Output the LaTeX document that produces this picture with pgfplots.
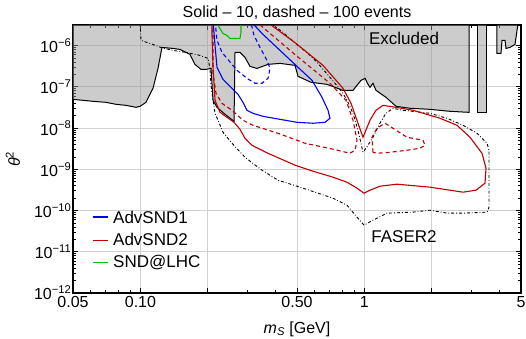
\documentclass[border=0pt]{standalone}
\usepackage{fontspec}
\setmainfont{Liberation Sans}
\usepackage{pgfplots}
\pgfplotsset{compat=1.18}
\definecolor{cblue}{rgb}{0,0,1}
\definecolor{cred}{rgb}{0.75,0,0}
\definecolor{cgreen}{rgb}{0,0.75,0}
\begin{document}
\begin{tikzpicture}
\useasboundingbox (-73pt,-45pt) rectangle (453pt,293pt);
\begin{loglogaxis}[
  scale only axis, width=448pt, height=268pt,
  xmin=0.05, xmax=5, ymin=1e-12, ymax=3.162e-6,
  xtick={0.05,0.1,0.2,0.5,1,2,5},
  xticklabels={0.05,0.10,,0.50,1,,5},
  minor xtick={0.06,0.07,0.08,0.09,0.3,0.4,0.6,0.7,0.8,0.9,3,4},
  ytick={1e-12,1e-11,1e-10,1e-9,1e-8,1e-7,1e-6},
  yticklabels={10\textsuperscript{−12},10\textsuperscript{−11},10\textsuperscript{−10},10\textsuperscript{−9},10\textsuperscript{−8},10\textsuperscript{−7},10\textsuperscript{−6}},
  grid=major, major grid style={black!18, line width=0.8pt},
  tick align=inside, xtick pos=both, ytick pos=both,
  xticklabel pos=lower, yticklabel pos=left,
  major tick length=5pt, minor tick length=3pt,
  tick style={black, line width=0.8pt},
  /pgf/number format/assume math mode=true,
  ticklabel style={font=\fontsize{16}{18}\selectfont},
  yticklabel style={inner sep=1.5pt},
  axis line style={line width=1.2pt},
  title={Solid – 10, dashed – 100 events},
  title style={font=\fontsize{16}{18}\selectfont, at={(axis description cs:0.5,1.024)}, anchor=center},
  xlabel={\textit{m}\textsubscript{\textit{S}} [GeV]},
  xlabel style={font=\fontsize{16}{18}\selectfont, at={(axis description cs:0.5,-0.134)}, anchor=center},
  ylabel={\textit{θ}\textsuperscript{2}},
  ylabel style={font=\fontsize{16}{18}\selectfont, at={(axis description cs:-0.134,0.5)}, anchor=center, rotate=0},
]
% Excluded region
\addplot[fill=black!40, fill opacity=0.5, draw=black, line width=1pt] coordinates {
(0.049,3.3e-6) (0.049,4.98e-8) (0.05,4.98e-8) (0.0614,4.46e-8) (0.0702,4.21e-8) (0.0778,3.77e-8)
(0.0862,3.56e-8) (0.0955,3.19e-8) (0.0996,3.37e-8) (0.1059,4.21e-8) (0.1138,9.20e-8) (0.1198,2.80e-7)
(0.1248,9.05e-7) (0.1397,8.55e-7) (0.1502,8.09e-7) (0.1665,6.12e-7) (0.1752,3.51e-7) (0.1864,2.65e-7)
(0.1963,2.65e-7) (0.2066,2.80e-7) (0.2109,4.71e-8) (0.2197,3.19e-8) (0.2385,2.16e-8) (0.2617,1.46e-8)
(0.2644,6.85e-7) (0.2782,6.85e-7) (0.2930,5.18e-7) (0.3084,3.14e-7) (0.3314,2.80e-7) (0.3711,3.51e-7)
(0.4200,3.71e-7) (0.4899,3.32e-7) (0.5052,1.80e-7) (0.5774,1.29e-7) (0.6806,1.15e-7) (0.8025,8.23e-8)
(0.8892,8.23e-8) (0.9654,1.44e-7) (1.006,1.61e-7) (1.038,1.15e-7) (1.059,9.72e-8) (1.092,1.22e-7)
(1.126,8.23e-8) (1.248,5.57e-8) (1.384,3.37e-8) (1.598,3.02e-8) (1.962,2.85e-8) (2.410,2.55e-8)
(2.930,2.41e-8) (2.930,3.3e-6) (0.049,3.3e-6)};
\addplot[fill=black!40, fill opacity=0.5, draw=black, line width=1pt] coordinates {
(3.182,3.3e-6) (3.182,2.41e-8) (3.490,2.41e-8) (3.490,3.3e-6) (3.182,3.3e-6)};
\addplot[fill=black!40, fill opacity=0.5, draw=black, line width=1pt] coordinates {
(3.907,3.3e-6) (3.907,6.48e-7) (4.070,6.48e-7) (4.113,1.34e-6) (4.243,1.34e-6) (4.285,8.55e-7)
(4.465,9.05e-7) (4.701,1.07e-6) (4.799,2.33e-6) (4.849,3.3e-6) (3.907,3.3e-6)};
% FASER2
\addplot[black, line width=0.9pt, dash pattern=on 3pt off 2pt on 0.8pt off 2pt] coordinates {
(0.0996,4e-6) (0.1006,1.34e-6) (0.1104,1.13e-6) (0.1235,9.05e-7) (0.1397,7.65e-7) (0.1598,6.85e-7)
(0.1845,5.79e-7) (0.2003,4.90e-7) (0.2044,2.80e-7) (0.2066,1.09e-7) (0.2109,4.71e-8) (0.2153,2.28e-8)
(0.2220,1.55e-8) (0.2337,7.91e-9) (0.2564,4.29e-9) (0.2930,1.96e-9) (0.3489,9.51e-10) (0.4114,5.44e-10)
(0.5157,3.69e-10) (0.7240,2.00e-10) (0.8359,1.35e-10) (0.9266,6.92e-11) (0.9956,4.43e-11) (1.092,5.85e-11)
(1.261,8.65e-11) (1.648,9.15e-11) (1.962,1.02e-10) (2.337,8.65e-11) (2.755,8.65e-11) (3.526,9.15e-11)
(3.599,1.21e-10) (3.599,2.90e-9) (3.526,4.29e-9) (3.182,7.48e-9) (2.755,1.17e-8) (2.337,1.73e-8)
(1.962,2.28e-8) (1.487,2.70e-8) (1.341,3.02e-8) (1.248,2.28e-8) (1.173,1.31e-8) (1.092,5.99e-9)
(1.016,3.24e-9) (0.9854,2.59e-9) (0.9361,8.85e-9) (0.8892,2.28e-8) (0.8447,4.21e-8) (0.8025,6.96e-8)
(0.7390,1.22e-7) (0.6206,3.71e-7) (0.5600,6.48e-7) (0.5052,1.01e-6) (0.4330,2.09e-6) (0.3789,3.6e-6)};
% AdvSND2 solid
\addplot[cred, line width=1.1pt] coordinates {
(0.2087,4e-6) (0.2087,1.77e-6) (0.2109,2.97e-7) (0.2153,4.71e-8) (0.2266,2.41e-8) (0.2617,1.38e-8)
(0.2782,9.35e-9) (0.2930,5.66e-9) (0.3148,3.83e-9) (0.3711,2.45e-9) (0.4899,1.26e-9) (0.5895,9.00e-10)
(0.7240,6.44e-10) (0.8359,4.87e-10) (0.9266,3.49e-10) (0.9956,2.64e-10) (1.059,3.12e-10) (1.173,3.90e-10)
(1.398,4.36e-10) (1.962,3.69e-10) (2.755,2.79e-10) (3.148,3.12e-10) (3.454,4.61e-10) (3.490,1.06e-9)
(3.349,2.45e-9) (2.960,5.99e-9) (2.590,1.17e-8) (2.175,1.73e-8) (1.648,2.70e-8) (1.384,3.19e-8)
(1.210,3.56e-8) (1.126,2.70e-8) (1.059,1.55e-8) (0.9854,5.99e-9) (0.9361,1.31e-8) (0.8712,3.99e-8)
(0.8025,9.20e-8) (0.6533,3.32e-7) (0.4949,1.13e-6) (0.3711,3.6e-6)};
% AdvSND2 dashed
\addplot[cred, line width=1.1pt, dash pattern=on 4pt off 3pt] coordinates {
(0.2109,4e-6) (0.2109,2.12e-7) (0.2175,6.96e-8) (0.2313,3.99e-8) (0.2564,2.70e-8) (0.2870,1.55e-8)
(0.3181,1.17e-8) (0.4114,7.48e-9) (0.5428,4.29e-9) (0.7240,3.07e-9) (0.8622,2.45e-9) (0.9077,2.90e-9)
(0.9266,5.07e-9) (0.8892,1.55e-8) (0.8275,4.71e-8) (0.7020,1.22e-7) (0.4949,5.79e-7) (0.3525,2.76e-6)
(0.3348,3.6e-6)};
\addplot[cred, line width=1.1pt, dash pattern=on 4pt off 3pt] coordinates {
(1.092,2.59e-9) (1.081,5.99e-9) (1.138,9.89e-9) (1.235,1.31e-8) (1.341,9.89e-9) (1.549,5.99e-9)
(1.826,5.07e-9) (1.864,3.83e-9) (1.771,3.24e-9) (1.549,2.90e-9) (1.300,2.59e-9) (1.138,2.45e-9) (1.092,2.59e-9)};
% AdvSND1 solid
\addplot[cblue, line width=1.1pt] coordinates {
(0.2109,4e-6) (0.2153,1.01e-6) (0.2197,2.97e-7) (0.2337,1.52e-7) (0.2512,1.03e-7) (0.2727,6.58e-8)
(0.2870,4.21e-8) (0.2991,2.70e-8) (0.3181,2.28e-8) (0.3525,1.93e-8) (0.4200,1.63e-8) (0.5,1.38e-8)
(0.5895,1.31e-8) (0.6668,1.38e-8) (0.7020,1.73e-8) (0.6878,2.70e-8) (0.6466,5.57e-8) (0.5836,1.44e-7)
(0.5,3.14e-7) (0.4200,7.65e-7) (0.3525,1.87e-6) (0.3148,3.6e-6)};
% AdvSND1 dashed
\addplot[cblue, line width=1.1pt, dash pattern=on 4pt off 3pt] coordinates {
(0.2153,4e-6) (0.2197,1.34e-6) (0.2313,6.85e-7) (0.2435,4.90e-7) (0.2699,2.51e-7) (0.2991,1.61e-7)
(0.3247,1.22e-7) (0.3489,1.22e-7) (0.3711,1.61e-7) (0.3789,2.80e-7) (0.3674,4.38e-7) (0.3418,9.05e-7)
(0.3213,1.77e-6) (0.3116,3.6e-6)};
% SND@LHC
\addplot[cgreen, line width=1.1pt] coordinates {
(0.2220,4e-6) (0.2220,3.1e-6) (0.2337,1.97e-6) (0.2435,1.77e-6) (0.2512,1.49e-6) (0.2782,1.49e-6)
(0.2812,2.09e-6) (0.2812,4e-6)};
\node[font=\fontsize{17}{19}\selectfont] at (axis cs:1.502,1.49e-6) {Excluded};
\node[font=\fontsize{17}{19}\selectfont] at (axis cs:1.502,2.27e-11) {FASER2};
% legend
\draw[cblue, line width=1.2pt] (axis description cs:0.0446,0.2836) -- ++(15pt,0pt);
\draw[cred, line width=1.2pt] (axis description cs:0.0446,0.1951) -- ++(15pt,0pt);
\draw[cgreen, line width=1.2pt] (axis description cs:0.0446,0.1131) -- ++(15pt,0pt);
\node[anchor=base west, inner sep=0pt, font=\fontsize{17}{19}\selectfont] at (axis description cs:0.0893,0.261) {AdvSND1};
\node[anchor=base west, inner sep=0pt, font=\fontsize{17}{19}\selectfont] at (axis description cs:0.0893,0.179) {AdvSND2};
\node[anchor=base west, inner sep=0pt, font=\fontsize{17}{19}\selectfont] at (axis description cs:0.0893,0.097) {SND@LHC};
\end{loglogaxis}
\end{tikzpicture}
\end{document}
